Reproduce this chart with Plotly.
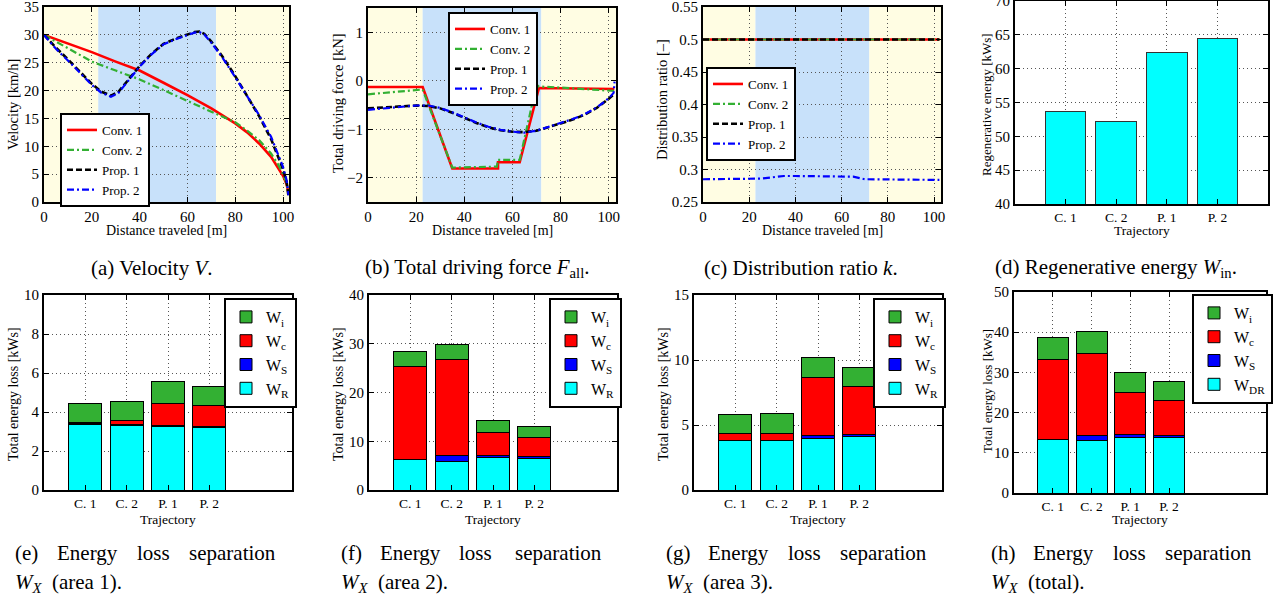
import plotly.graph_objects as go

W, H = 1283, 603
FONT = "Liberation Serif"

# ---------------- data ----------------
area_bounds = [0, 22.7, 72.0, 103.0]

# (a) velocity [km/h] vs distance [m]
conv1_dist = [0, 10, 20, 30, 40, 50, 60, 70, 80, 85, 90, 95, 98, 100, 101.5, 102.3]
conv1_vel = [30, 28.5, 26.9, 25.2, 23.6, 21.4, 19.2, 16.8, 14.1, 12.5, 10.5, 8.1, 6.2, 4.7, 3.2, 1.6]
conv2_dist = [0, 10, 20, 30, 40, 50, 60, 70, 80, 85, 90, 95, 98, 100, 101.5, 102.3]
conv2_vel = [30, 27.6, 25.2, 23.6, 22.0, 20.1, 18.1, 16.2, 14.3, 12.8, 11.1, 8.7, 6.7, 5.0, 3.4, 1.8]
prop1_dist = [0, 5, 10, 15, 20, 24, 28, 31, 35, 40, 45, 50, 55, 60, 63, 65, 67, 70, 75, 80, 85, 90, 95, 98, 100, 101.5, 102.3]
prop1_vel = [30, 27.7, 25.6, 23.4, 21.2, 19.8, 19.1, 19.7, 21.7, 24.4, 26.6, 28.4, 29.3, 30.0, 30.5, 30.6, 30.2, 28.8, 25.9, 22.6, 19.1, 15.4, 11.3, 8.1, 5.9, 3.6, 1.0]
prop2_dist = [0, 5, 10, 15, 20, 24, 28, 31, 35, 40, 45, 50, 55, 60, 63, 65, 67, 70, 75, 80, 85, 90, 95, 98, 100, 101.5, 102.3]
prop2_vel = [30, 27.5, 25.4, 23.2, 21.0, 19.6, 18.9, 19.5, 21.6, 24.3, 26.5, 28.3, 29.2, 29.9, 30.4, 30.5, 30.1, 28.6, 25.7, 22.4, 19.0, 15.6, 11.7, 8.5, 6.3, 3.9, 1.2]

# (b) total driving force [kN]
conv1_f_dist = [0, 22.7, 35, 54, 54, 63, 71, 102.3]
conv1_force = [-0.13, -0.13, -1.81, -1.81, -1.68, -1.68, -0.15, -0.17]
conv2_f_dist = [0, 10, 22.7, 35, 53.5, 54, 63, 70, 71, 80, 90, 102.3]
conv2_force = [-0.28, -0.24, -0.18, -1.79, -1.77, -1.63, -1.63, -0.08, -0.12, -0.14, -0.17, -0.21]
prop1_f_dist = [0, 10, 20, 25, 30, 35, 40, 45, 50, 55, 60, 65, 70, 75, 80, 85, 90, 95, 98, 100, 102.3]
prop1_force = [-0.57, -0.54, -0.51, -0.52, -0.57, -0.66, -0.77, -0.87, -0.96, -1.02, -1.05, -1.06, -1.03, -0.96, -0.88, -0.80, -0.70, -0.56, -0.45, -0.37, -0.27]
prop2_f_dist = [0, 10, 20, 25, 30, 35, 40, 45, 50, 55, 60, 65, 70, 75, 80, 85, 90, 95, 98, 100, 102.0, 102.4]
prop2_force = [-0.60, -0.55, -0.51, -0.51, -0.56, -0.65, -0.76, -0.86, -0.95, -1.01, -1.05, -1.07, -1.03, -0.95, -0.87, -0.79, -0.69, -0.55, -0.44, -0.36, -0.25, -0.02]

# (c) distribution ratio [-]
conv1_k_dist = [0, 102.3]
conv1_k = [0.5, 0.5]
conv2_k_dist = [0, 102.3]
conv2_k = [0.5, 0.5]
prop1_k_dist = [0, 102.3]
prop1_k = [0.5, 0.5]
prop2_k_dist = [0, 10, 20, 25, 30, 35, 40, 50, 60, 65, 70, 80, 90, 102.3]
prop2_k = [0.285, 0.285, 0.285, 0.286, 0.288, 0.290, 0.290, 0.290, 0.290, 0.289, 0.285, 0.285, 0.285, 0.284]

# bar charts
trajectories = ["C. 1", "C. 2", "P. 1", "P. 2"]
regen_energy = [53.7, 52.2, 62.4, 64.4]

area1_WR = [3.38, 3.33, 3.25, 3.21]
area1_WS = [0.05, 0.05, 0.08, 0.07]
area1_Wc = [0.02, 0.17, 1.11, 1.03]
area1_Wi = [1.00, 1.00, 1.10, 1.02]

area2_WR = [6.16, 5.90, 6.64, 6.50]
area2_WS = [0.14, 1.15, 0.48, 0.28]
area2_Wc = [19.0, 19.7, 4.73, 4.04]
area2_Wi = [3.2, 3.1, 2.45, 2.2]

area3_WR = [3.79, 3.77, 3.97, 4.10]
area3_WS = [0.02, 0.02, 0.23, 0.18]
area3_Wc = [0.55, 0.57, 4.44, 3.67]
area3_Wi = [1.41, 1.51, 1.56, 1.51]

total_WDR = [13.3, 13.06, 13.9, 13.8]
total_WS = [0.10, 1.16, 0.66, 0.60]
total_Wc = [19.9, 20.6, 10.4, 8.65]
total_Wi = [5.5, 5.4, 5.1, 4.75]

# ---------------- styling ----------------
RED = "#FF0000"
GREEN = "#33B033"
BLUE = "#0000FF"
BLACK = "#000000"
CYAN = "#00FFFF"
YELLOW_BG = "#FFFDE3"
BLUE_BG = "#C8E1FA"

def px_x(p):
    return p / W

def px_y(p):
    return 1 - p / H

# plot areas in pixels: (left, right, top, bottom)
boxes = {
    1: (44, 289, 7, 202),
    2: (368, 616, 8, 202),
    3: (703, 941, 7, 202),
    4: (1015, 1268, 1, 204),
    5: (44, 292, 295, 490),
    6: (369, 617, 295, 490),
    7: (694, 942, 295, 490),
    8: (1014, 1266, 292, 493),
}

fig = go.Figure()

def xy(i):
    return ("x" if i == 1 else f"x{i}"), ("y" if i == 1 else f"y{i}")

def leg(i):
    return "legend" if i == 1 else f"legend{i}"

line_specs = [
    ("Conv. 1", RED, "solid", 2.6),
    ("Conv. 2", GREEN, "7px,3px,2px,3px", 2.2),
    ("Prop. 1", BLACK, "6px,3px", 2.6),
    ("Prop. 2", BLUE, "7px,3px,2px,3px", 2.2),
]

panel_lines = {
    1: [(conv1_dist, conv1_vel), (conv2_dist, conv2_vel), (prop1_dist, prop1_vel), (prop2_dist, prop2_vel)],
    2: [(conv1_f_dist, conv1_force), (conv2_f_dist, conv2_force), (prop1_f_dist, prop1_force), (prop2_f_dist, prop2_force)],
    3: [(conv1_k_dist, conv1_k), (conv2_k_dist, conv2_k), (prop1_k_dist, prop1_k), (prop2_k_dist, prop2_k)],
}

for i, series in panel_lines.items():
    xa, ya = xy(i)
    for (name, col, dash, wdt), (xs, ys) in zip(line_specs, series):
        fig.add_trace(go.Scatter(x=xs, y=ys, mode="lines", name=name,
                                 line=dict(color=col, dash=dash, width=wdt),
                                 xaxis=xa, yaxis=ya, legend=leg(i)))

# panel d
xa, ya = xy(4)
fig.add_trace(go.Bar(x=trajectories, y=regen_energy, marker=dict(color=CYAN, line=dict(color="#333333", width=1)),
                     xaxis=xa, yaxis=ya, showlegend=False))

stack_panels = {
    5: (area1_WR, area1_WS, area1_Wc, area1_Wi, "W<sub>R</sub>"),
    6: (area2_WR, area2_WS, area2_Wc, area2_Wi, "W<sub>R</sub>"),
    7: (area3_WR, area3_WS, area3_Wc, area3_Wi, "W<sub>R</sub>"),
    8: (total_WDR, total_WS, total_Wc, total_Wi, "W<sub>DR</sub>"),
}
legend_ids = {5: 4, 6: 5, 7: 6, 8: 7}
for i, (wr, ws, wc, wi, rname) in stack_panels.items():
    xa, ya = xy(i)
    for name, vals, col in [(rname, wr, CYAN), ("W<sub>S</sub>", ws, BLUE), ("W<sub>c</sub>", wc, RED), ("W<sub>i</sub>", wi, GREEN)]:
        fig.add_trace(go.Bar(x=trajectories, y=vals, name=name,
                             marker=dict(color=col, line=dict(color="black", width=1)),
                             xaxis=xa, yaxis=ya, legend=leg(legend_ids[i])))

def axis_common():
    return dict(showline=True, linecolor="black", linewidth=2, mirror="ticks",
                ticks="inside", ticklen=5, tickwidth=1, tickcolor="black",
                showgrid=True, gridcolor="#555555", griddash="1px,3px", gridwidth=1,
                zeroline=False, fixedrange=True, automargin=False, ticklabeloverflow="allow",
                tickfont=dict(family=FONT, size=15, color="black"))

x_ranges = {1: [0, 102.5], 2: [0, 103], 3: [0, 103], 4: [-1, 4], 5: [-1, 5], 6: [-1, 5], 7: [-1, 5], 8: [-1, 5.5]}
y_ranges = {1: [0, 35], 2: [-2.5, 1.5], 3: [0.25, 0.55], 4: [40, 70], 5: [0, 10], 6: [0, 40], 7: [0, 15], 8: [0, 50]}
y_dticks = {1: 5, 2: 1, 3: 0.05, 4: 5, 5: 2, 6: 10, 7: 5, 8: 10}

layout_axes = {}
for i, (l, r, t, b) in boxes.items():
    xa = dict(axis_common(), domain=[px_x(l), px_x(r)], range=x_ranges[i], anchor=("y" if i == 1 else f"y{i}"))
    ya = dict(axis_common(), domain=[px_y(b), px_y(t)], range=y_ranges[i], anchor=("x" if i == 1 else f"x{i}"),
              dtick=y_dticks[i], tick0=0)
    if i <= 3:
        xa.update(dtick=20, tick0=0)
    else:
        xa.update(type="category", tickfont=dict(family=FONT, size=13.5, color="black"))
    if i == 3:
        ya["tickformat"] = ".2~f"
    layout_axes["xaxis" if i == 1 else f"xaxis{i}"] = xa
    layout_axes["yaxis" if i == 1 else f"yaxis{i}"] = ya

fig.update_layout(**layout_axes)

# background area shading
shapes = []
for i in (1, 2, 3):
    xa, ya = xy(i)
    cols = [YELLOW_BG, BLUE_BG, YELLOW_BG]
    for k in range(3):
        shapes.append(dict(type="rect", xref=xa, yref=f"{ya} domain", x0=area_bounds[k], x1=area_bounds[k + 1],
                           y0=0, y1=1, fillcolor=cols[k], line=dict(width=0), layer="below"))

# legends
def legend_cfg(xp, yp, size=13, order="normal"):
    return dict(x=px_x(xp), y=px_y(yp), xanchor="left", yanchor="top", bgcolor="white",
                bordercolor="black", borderwidth=2, font=dict(family=FONT, size=size, color="black"),
                itemwidth=30, tracegroupgap=0, traceorder=order)

legends = dict(
    legend=legend_cfg(60, 113),
    legend2=legend_cfg(448, 12),
    legend3=legend_cfg(706, 67),
)
bar_leg_pos = {4: (224, 298), 5: (549, 298), 6: (873, 298), 7: (1192, 294)}
for k, (xp, yp) in bar_leg_pos.items():
    legends[f"legend{k}"] = legend_cfg(xp, yp, 16, "reversed")

# annotations: axis titles and captions
ann = []
def text(x, y, s, size=15, angle=0, xanchor="center", yanchor="middle"):
    ann.append(dict(x=px_x(x), y=px_y(y), xref="paper", yref="paper", text=s, showarrow=False,
                    textangle=angle, xanchor=xanchor, yanchor=yanchor,
                    font=dict(family=FONT, size=size, color="black")))

for i in (1, 2, 3):
    l, r, t, b = boxes[i]
    text((l + r) / 2, 231, "Distance traveled [m]", 14)
text(13, 105, "Velocity [km/h]", 14.5, -90)
text(338, 103, "Total driving force [kN]", 14.5, -90)
text(662, 100, "Distribution ratio [\u2013]", 14.5, -90)
text(987, 105, "Regenerative energy [kWs]", 13, -90)
text((boxes[4][0] + boxes[4][1]) / 2, 231, "Trajectory", 13.5)
for i in (5, 6, 7, 8):
    l, r, t, b = boxes[i]
    text((l + r) / 2, 519, "Trajectory", 13.5)
for xc in (13, 338, 663):
    text(xc, 394, "Total energy loss [kWs]", 14, -90)
text(987, 391, "Total energy loss [kWs]", 13, -90)

CAP = 21
text(152, 268, "(a) Velocity <i>V</i>.", CAP)
text(477, 268, "(b) Total driving force <i>F</i><sub>all</sub>.", CAP)
text(801, 268, "(c) Distribution ratio <i>k</i>.", CAP)
text(1116, 268, "(d) Regenerative energy <i>W</i><sub>in</sub>.", CAP)

for left, letter, area in [(13, "e", "area 1"), (339, "f", "area 2"), (664, "g", "area 3"), (989, "h", "total")]:
    right = left + 265
    text(left, 553, f"({letter})", CAP, xanchor="left")
    text(left + 42 if letter != "f" else left + 39, 553, "Energy", CAP, xanchor="left")
    text(left + 122 if letter != "f" else left + 118, 553, "loss", CAP, xanchor="left")
    text(right, 553, "separation", CAP, xanchor="right")
    text(left, 583, f"<i>W<sub>X</sub></i>  ({area}).", CAP, xanchor="left")

fig.update_layout(
    template="none",
    width=W, height=H, margin=dict(l=0, r=0, t=0, b=0, pad=0),
    paper_bgcolor="white", plot_bgcolor="white",
    barmode="stack", bargap=0.2,
    shapes=shapes, annotations=ann,
    font=dict(family=FONT, color="black"),
    **legends,
)

fig.write_html("out.html", config={"displayModeBar": False},
               post_script="document.body.style.margin='0';document.body.style.overflow='hidden';")
